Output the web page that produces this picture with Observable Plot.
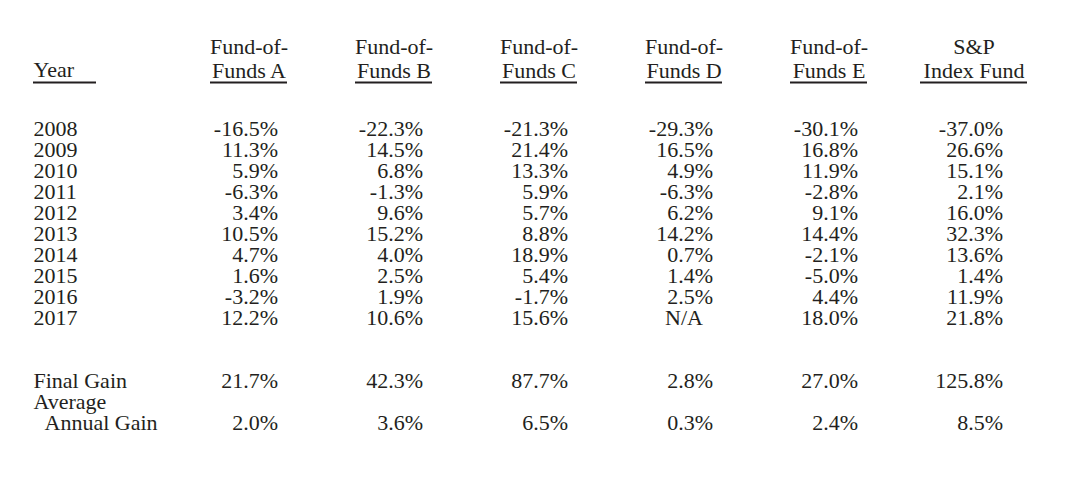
<!DOCTYPE html>
<html><head><meta charset="utf-8">
<script src="https://cdn.jsdelivr.net/npm/d3@7"></script>
<script src="https://cdn.jsdelivr.net/npm/@observablehq/plot@0.6"></script>
<style>body{margin:0;background:#fff}</style>
</head><body><div id="chart"></div>
<script>
// ---- data ----
const years = [2008, 2009, 2010, 2011, 2012, 2013, 2014, 2015, 2016, 2017];
const funds = ["A", "B", "C", "D", "E", "SP"];
const fundHeaders = ["Fund-of-\nFunds A", "Fund-of-\nFunds B", "Fund-of-\nFunds C", "Fund-of-\nFunds D", "Fund-of-\nFunds E", "S&P\nIndex Fund"];
const yearHeader = "Year";
const fundA  = [-16.5, 11.3, 5.9, -6.3, 3.4, 10.5, 4.7, 1.6, -3.2, 12.2];
const fundB  = [-22.3, 14.5, 6.8, -1.3, 9.6, 15.2, 4.0, 2.5, 1.9, 10.6];
const fundC  = [-21.3, 21.4, 13.3, 5.9, 5.7, 8.8, 18.9, 5.4, -1.7, 15.6];
const fundD  = [-29.3, 16.5, 4.9, -6.3, 6.2, 14.2, 0.7, 1.4, 2.5, null];
const fundE  = [-30.1, 16.8, 11.9, -2.8, 9.1, 14.4, -2.1, -5.0, 4.4, 18.0];
const spIndex = [-37.0, 26.6, 15.1, 2.1, 16.0, 32.3, 13.6, 1.4, 11.9, 21.8];
const finalGain = [21.7, 42.3, 87.7, 2.8, 27.0, 125.8];
const avgAnnualGain = [2.0, 3.6, 6.5, 0.3, 2.4, 8.5];
const summaryLabels = ["Final Gain", "Average", "\u00a0\u00a0Annual Gain"];
const missingText = "N/A";

// ---- tables ----
const series = [fundA, fundB, fundC, fundD, fundE, spIndex];
const cells = [];
years.forEach((yr, i) => funds.forEach((f, j) => cells.push({row: String(yr), fund: f, value: series[j][i]})));
funds.forEach((f, j) => {
  cells.push({row: "Final Gain", fund: f, value: finalGain[j]});
  cells.push({row: "Annual Gain", fund: f, value: avgAnnualGain[j]});
});
const rowKeys = ["hdr", "gap1", "gap2", ...years.map(String), "gap3", "gap4", "Final Gain", "Average", "Annual Gain"];
const labels = [
  ...years.map(y => ({row: String(y), label: String(y)})),
  {row: "Final Gain", label: summaryLabels[0]},
  {row: "Average", label: summaryLabels[1]},
  {row: "Annual Gain", label: summaryLabels[2]}
];
const headers = funds.map((f, j) => ({fund: f, header: fundHeaders[j], row: "hdr"}));
const fmt = v => v.toFixed(1) + "%";

const font = '"Liberation Serif","Times New Roman",serif';
const ink = "#231f20";
const fs = 22;
const W = 1080;

const chart = Plot.plot({
  width: W, height: 494,
  marginTop: 0, marginBottom: 0, marginRight: 0, marginLeft: 33,
  style: {fontFamily: font, fontSize: fs + "px", color: ink, background: "#fff"},
  x: {type: "band", domain: funds, range: [174, 1048], padding: 0, axis: null},
  y: {type: "point", domain: rowKeys, range: [65, 422], padding: 0, axis: null},
  marks: [
    // row labels
    Plot.text(labels, {y: "row", text: "label", frameAnchor: "left", textAnchor: "start", fontSize: fs, fill: ink}),
    // column headers
    Plot.text([yearHeader], {y: () => "hdr", text: d => d, frameAnchor: "left", textAnchor: "start", dy: 4.5, fontSize: fs, fill: ink}),
    Plot.text(headers, {x: "fund", y: "row", text: "header", lineHeight: 1.08, dy: -7, fontSize: fs, fill: ink}),
    Plot.tickY(headers.filter(d => d.fund !== "SP"), {x: "fund", y: "row", dy: 17, insetLeft: 34, insetRight: 34, stroke: ink, strokeWidth: 1.8}),
    Plot.tickY(headers.filter(d => d.fund === "SP"), {x: "fund", y: "row", dy: 17, insetLeft: 19, insetRight: 19, stroke: ink, strokeWidth: 1.8}),
    Plot.ruleY(["hdr"], {y: d => d, dy: 17, insetRight: W - 33 - 63, stroke: ink, strokeWidth: 1.8}),
    // values
    Plot.text(cells.filter(d => d.value != null), {x: "fund", y: "row", text: d => fmt(d.value), textAnchor: "end", dx: 29, fontSize: fs, fill: ink}),
    Plot.text(cells.filter(d => d.value == null), {x: "fund", y: "row", text: () => missingText, textAnchor: "middle", fontSize: fs, fill: ink})
  ]
});
document.getElementById("chart").appendChild(chart);
</script>
</body></html>
